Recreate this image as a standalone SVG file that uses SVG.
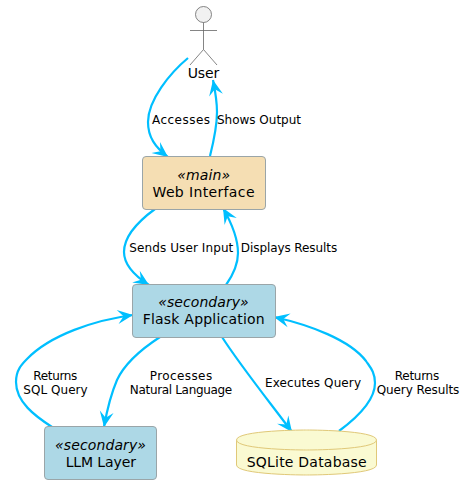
<svg xmlns="http://www.w3.org/2000/svg" width="466" height="491" viewBox="0 0 466 491">
<style>
text{font-family:"DejaVu Sans",sans-serif;fill:#000;text-anchor:middle}
.n{font-size:14px}
.s{font-size:14px;font-style:italic}
.l{font-size:12px}
.box{stroke:#9aa5a8;stroke-width:1}
.c{fill:none;stroke:#00bfff;stroke-width:2.2;marker-end:url(#a)}
.db{fill:#fafad2;stroke:#e0c878;stroke-width:1}
</style>
<defs>
<marker id="a" markerUnits="userSpaceOnUse" markerWidth="24" markerHeight="20" refX="17" refY="10" orient="auto" overflow="visible">
<path d="M17,10 L1.5,3 L7.5,10 L1.5,17 Z" fill="#00bfff"/>
</marker>
</defs>
<g id="connectors">
<path class="c" d="M188,58 C170,73 148,100 148,122 C148,137 155,147 168,157"/>
<path class="c" d="M210,156 C214,140 217,125 217,112 C217,102 215,90 213,80"/>
<path class="c" d="M155,209 C140,220 124,236 124,252 C124,265 135,276 149,285"/>
<path class="c" d="M226,285 C233,275 238,265 238,253 C238,238 231,222 223,208"/>
<path class="c" d="M52,427 C35,416 16,402 16,382 C16,370 22,364 27,359 C50,335 95,320 133,315"/>
<path class="c" d="M160,337 C140,350 124,365 117,380 C111,394 107,410 104,427"/>
<path class="c" d="M222,337 C240,365 268,400 292,432"/>
<path class="c" d="M339,431 C358,417 375,400 375,383 C375,372 370,367 366,361 C350,340 310,325 274,317"/>
</g>
<g id="user">
<circle cx="203.5" cy="14.5" r="8" fill="#f1f1f1" stroke="#666" stroke-width="0.8"/>
<path d="M203.5,22.5V49.5M190,30.5H217M203.5,49.5L190,65M203.5,49.5L217,65" fill="none" stroke="#666" stroke-width="0.8"/>
<text class="n" x="203.5" y="78" textLength="31.6">User</text>
</g>
<g id="web">
<rect class="box" x="142.5" y="156.5" width="123" height="53" rx="3.5" fill="#f5deb3"/>
<text class="s" x="203.7" y="180" textLength="52.7">«main»</text>
<text class="n" x="203.5" y="196.5" textLength="102">Web Interface</text>
</g>
<g id="flask">
<rect class="box" x="132.5" y="284.5" width="143" height="53" rx="3.5" fill="#add8e6"/>
<text class="s" x="203.5" y="307" textLength="90.4">«secondary»</text>
<text class="n" x="203.7" y="324" textLength="122">Flask Application</text>
</g>
<g id="llm">
<rect class="box" x="44.5" y="426.5" width="112" height="53" rx="3.5" fill="#add8e6"/>
<text class="s" x="100.5" y="450" textLength="91">«secondary»</text>
<text class="n" x="100.8" y="466.5" textLength="70.3">LLM Layer</text>
</g>
<g id="db">
<path class="db" d="M236.5,440 C236.5,430 306.5,430 306.5,430 C306.5,430 376.5,430 376.5,440 V465 C376.5,475 306.5,475 306.5,475 C306.5,475 236.5,475 236.5,465 Z"/>
<path class="db" d="M236.5,440 C236.5,450 306.5,450 306.5,450 C306.5,450 376.5,450 376.5,440" fill="none"/>
<text class="n" x="306.7" y="466.5" textLength="120">SQLite Database</text>
</g>
<g id="labels">
<text class="l" x="181" y="124" textLength="58">Accesses</text>
<text class="l" x="259" y="124" textLength="84">Shows Output</text>
<text class="l" x="181.3" y="252" textLength="104">Sends User Input</text>
<text class="l" x="289" y="252" textLength="96.3">Displays Results</text>
<text class="l" x="55.3" y="380" textLength="44">Returns</text>
<text class="l" x="55.5" y="394" textLength="64.4">SQL Query</text>
<text class="l" x="181" y="380" textLength="62.3">Processes</text>
<text class="l" x="181" y="394" textLength="102.3">Natural Language</text>
<text class="l" x="313" y="387" textLength="96">Executes Query</text>
<text class="l" x="417" y="380" textLength="44.3">Returns</text>
<text class="l" x="418" y="394" textLength="82.7">Query Results</text>
</g>
</svg>
